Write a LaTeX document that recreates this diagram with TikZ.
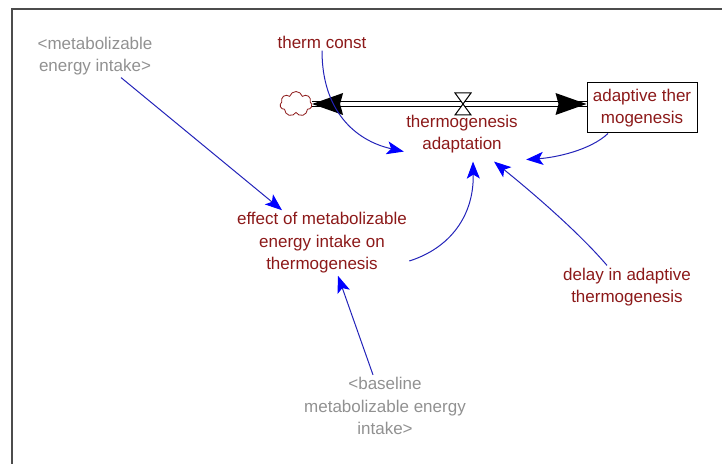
\documentclass[tikz,border=0pt]{standalone}
\usepackage{fontspec}
\setmainfont{Liberation Sans}
\usetikzlibrary{calc}
\usetikzlibrary{arrows.meta}
\usetikzlibrary{shapes.symbols}

\definecolor{varred}{RGB}{140,25,25}
\definecolor{shadowgray}{RGB}{145,145,145}
\definecolor{linkblue}{RGB}{35,35,185}

\begin{document}
\begin{tikzpicture}[x=0.5pt, y=-0.5pt,
  var/.style={text=varred, align=center, inner sep=1pt, font=\fontsize{8.5}{11.25}\selectfont},
  shadowvar/.style={var, text=shadowgray},
  infolink/.style={draw=linkblue, line width=0.5pt, -{Stealth[length=8.5pt, width=6.5pt, inset=2pt, color=blue]}},
  ]
\useasboundingbox (0,0) rectangle (722,464);
\draw[gray!60!black, line width=1pt] (12,464) -- (12,9) -- (722,9);

% stock, flow and source
\coordinate (valve) at (463,104);
\node[cloud, cloud puffs=7, aspect=1.3, draw=varred, line width=0.4pt, minimum width=16pt, minimum height=12.5pt, inner sep=0pt] (src) at (296,104) {};
\node[var, draw=black, fill=white, line width=0.5pt, minimum width=55pt, minimum height=25pt] (at) at (642,108) {adaptive ther\\mogenesis};
\draw[double distance=2.2pt, line width=0.5pt] (valve -| src.east) -- (valve -| at.west);
\fill (valve -| src.east) -- ++(31,-11) -- ++(-3,11) -- ++(3,11) -- cycle;
\fill (valve -| at.west) -- ++(-31,-11) -- ++(3,11) -- ++(-3,11) -- cycle;
\draw[fill=white, line width=0.5pt] (valve) -- ++(-8,-11) -- ++(16,0) -- cycle;
\draw[fill=white, line width=0.5pt] (valve) -- ++(-8,11) -- ++(16,0) -- cycle;

\node[var] (ta) at (462,134) {thermogenesis\\adaptation};
\node[var] (tc) at (322,42) {therm const};
\node[shadowvar] (mei) at (95,56) {<metabolizable\\energy intake>};
\node[var] (eff) at (322,243) {effect of metabolizable\\energy intake on\\thermogenesis};
\node[var] (delay) at (627,287) {delay in adaptive\\thermogenesis};
\node[shadowvar] (base) at (385,406) {<baseline\\metabolizable energy\\intake>};

% links
\draw[infolink] (tc.south) .. controls +(0,60) and +(-49,-11) .. ([yshift=2pt]ta.south west);
\draw[infolink] ([xshift=13pt]mei.south) -- ([xshift=-20pt]eff.north);
\draw[infolink] ([xshift=-17pt]at.south) .. controls +(-18,17) and +(29,-2) .. ([xshift=3pt,yshift=-2pt]ta.south east);
\draw[infolink] ([yshift=-9pt]eff.east) .. controls +(41,-13) and +(1,54) .. ([xshift=5.5pt,yshift=-3pt]ta.south);
\draw[infolink] ([xshift=-10pt]delay.north) .. controls +(-29,-34) and +(36,29) .. ([xshift=16pt,yshift=-3pt]ta.south);
\draw[infolink] ([xshift=-6pt]base.north) -- ([xshift=8pt]eff.south);

\end{tikzpicture}
\end{document}
